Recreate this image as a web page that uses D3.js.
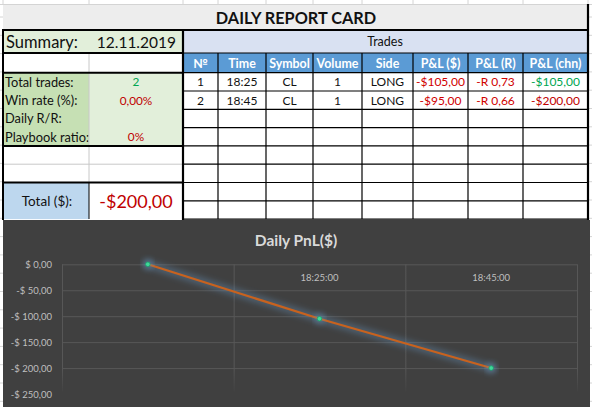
<!DOCTYPE html>
<html>
<head>
<meta charset="utf-8">
<script src="https://cdn.jsdelivr.net/npm/d3@7"></script>
<style>
  html, body { margin: 0; padding: 0; background: #fff; }
  svg { display: block; }
  text { font-family: Lato, "Noto Sans", sans-serif; }
</style>
</head>
<body>
<svg id="sheet" width="592" height="407"></svg>
<script>
// ---- data ----
var reportTitle = "DAILY REPORT CARD";
var summaryDate = "12.11.2019";
var summaryLabels = ["Total trades:", "Win rate (%):", "Daily R/R:", "Playbook ratio:"];
var summaryValues = ["2", "0,00%", "", "0%"];
var summaryColors = ["#00a651", "#c00000", "#000", "#c00000"];
var totalValue = "-$200,00";

var tradeColumns = ["№", "Time", "Symbol", "Volume", "Side", "P&L ($)", "P&L (R)", "P&L (chn)"];
var tradeNo = ["1", "2"];
var tradeTime = ["18:25", "18:45"];
var tradeSymbol = ["CL", "CL"];
var tradeVolume = ["1", "1"];
var tradeSide = ["LONG", "LONG"];
var tradePnl = ["-$105,00", "-$95,00"];
var tradeR = ["-R 0,73", "-R 0,66"];
var tradeChain = ["-$105,00", "-$200,00"];
var chainColors = ["#00a651", "#c00000"];

// chart
var chartTitle = "Daily PnL($)";
var pnlTimes = ["", "18:25:00", "18:45:00"];
var pnlValues = [0, -105, -200];
var pnlTicks = [0, -50, -100, -150, -200, -250];

// ---- layout ----
var svg = d3.select("#sheet");
var colEdges = [3, 89, 183, 218, 266, 313, 362, 413, 468, 523, 588];
var rowTop = 72.7, rowH = 18.3, nRows = 8;
var fontBody = 12;

// sheet gridlines behind everything
var grid = svg.append("g").attr("stroke", "#d4d4d4").attr("stroke-width", 1);
colEdges.forEach(function(x) {
  grid.append("line").attr("x1", x).attr("x2", x).attr("y1", 0).attr("y2", 5);
});
grid.append("line").attr("x1", 0).attr("x2", 592).attr("y1", 4.5).attr("y2", 4.5);
d3.range(0, 407, 18.3).forEach(function(y) {
  grid.append("line").attr("x1", 588).attr("x2", 592).attr("y1", y + 17).attr("y2", y + 17);
  grid.append("line").attr("x1", 0).attr("x2", 3).attr("y1", y + 17).attr("y2", y + 17);
});

function rect(x0, y0, x1, y1, fill) {
  svg.append("rect").attr("x", x0).attr("y", y0)
    .attr("width", x1 - x0).attr("height", y1 - y0).attr("fill", fill);
}
function line(x0, y0, x1, y1, color, w) {
  svg.append("line").attr("x1", x0).attr("y1", y0).attr("x2", x1).attr("y2", y1)
    .attr("stroke", color).attr("stroke-width", w);
}
function label(x, y, str, opts) {
  opts = opts || {};
  return svg.append("text").attr("x", x).attr("y", y)
    .attr("text-anchor", opts.anchor || "middle")
    .attr("dominant-baseline", "central")
    .attr("font-size", opts.size || fontBody)
    .attr("font-weight", opts.weight || "normal")
    .attr("fill", opts.color || "#111")
    .text(str);
}

// fills
rect(3, 5, 588, 30, "#ededed");
rect(3, 30, 183, 53, "#e2efda");
rect(183, 30, 588, 53, "#d9e1f2");
rect(183, 53, 588, rowTop, "#5b9bd5");
rect(3, rowTop, 89, rowTop + 4 * rowH, "#c6e0b4");
rect(89, rowTop, 183, rowTop + 4 * rowH, "#e2efda");
rect(3, rowTop + 6 * rowH, 89, rowTop + 8 * rowH, "#bdd7ee");

// title + summary row
label(296, 17.5, reportTitle, {size: 16.3, weight: "bold"});
label(6, 42, "Summary:", {anchor: "start", size: 16.5});
label(176, 42, summaryDate, {anchor: "end", size: 15.5});
label(385, 41.5, "Trades", {size: 12.5});

// trades header
var tradeX = colEdges.slice(2);
tradeColumns.forEach(function(c, i) {
  label((tradeX[i] + tradeX[i + 1]) / 2, (53 + rowTop) / 2 + 0.5, c,
    {weight: "bold", color: "#fff", size: 12.4});
});

// trade rows
var tradeCols = [tradeNo, tradeTime, tradeSymbol, tradeVolume, tradeSide, tradePnl, tradeR, tradeChain];
tradeNo.forEach(function(d, r) {
  tradeCols.forEach(function(col, i) {
    var color = "#111";
    if (i === 5 || i === 6) color = "#d00000";
    if (i === 7) color = chainColors[r];
    label((tradeX[i] + tradeX[i + 1]) / 2, rowTop + rowH * (r + 0.5), col[r], {color: color});
  });
});

// summary block
summaryLabels.forEach(function(s, i) {
  var cy = rowTop + rowH * (i + 0.5);
  label(5, cy, s, {anchor: "start", size: 12.8});
  label(136, cy, summaryValues[i], {color: summaryColors[i], size: 11.8});
});
label(47, rowTop + rowH * 7, "Total ($):", {size: 13.5});
label(136, rowTop + rowH * 7, totalValue, {size: 18, color: "#c00000"});

// thin grid of trades table
for (var r = 0; r <= nRows; r++) {
  line(183, rowTop + r * rowH, 588, rowTop + r * rowH, "#000", 1.2);
}
tradeX.forEach(function(x) { line(x, 53, x, 219, "#000", 1.2); });
line(183, 53, 588, 53, "#000", 1.2);

// left block borders
line(89, 53, 89, rowTop + 6 * rowH, "#c8c8c8", 1);
line(89, rowTop + 6 * rowH, 89, 219, "#000", 1);
[53, rowTop, rowTop + 4 * rowH, rowTop + 6 * rowH].forEach(function(y) {
  line(3, y, 183, y, "#000", 2);
});
line(3, rowTop + 5 * rowH, 183, rowTop + 5 * rowH, "#c8c8c8", 1);

// thick outline
line(3, 30, 588, 30, "#000", 2);
line(3, 29, 3, 220, "#000", 2);
line(183, 29, 183, 220, "#000", 2.2);
line(588, 4, 588, 220, "#000", 2.2);

// ---- chart ----
var chartX = 3, chartY = 220, chartW = 587, chartH = 190;
var chart = svg.append("g");
chart.append("rect").attr("x", chartX).attr("y", chartY)
  .attr("width", chartW).attr("height", chartH).attr("fill", "#404040");

chart.append("text").attr("x", 296).attr("y", 240)
  .attr("text-anchor", "middle").attr("dominant-baseline", "central")
  .attr("font-size", 15.5).attr("font-weight", "bold").attr("fill", "#d9d9d9")
  .text(chartTitle);

var x = d3.scaleBand().domain(d3.range(pnlTimes.length)).range([62, 577]);
var y = d3.scaleLinear().domain([0, -250]).range([264.3, 394]);

var defs = svg.append("defs");
var fade = defs.append("linearGradient").attr("id", "fade")
  .attr("gradientUnits", "userSpaceOnUse")
  .attr("x1", 0).attr("x2", 0).attr("y1", y(-200)).attr("y2", y(-250));
fade.append("stop").attr("offset", 0).attr("stop-color", "#575757");
fade.append("stop").attr("offset", 1).attr("stop-color", "#404040");
var glow = defs.append("filter").attr("id", "glow")
  .attr("x", "-20%").attr("y", "-50%").attr("width", "140%").attr("height", "200%");
glow.append("feGaussianBlur").attr("stdDeviation", 3);

// horizontal gridlines
chart.selectAll(".hgrid").data(pnlTicks.slice(0, -1)).enter().append("line")
  .attr("x1", 62).attr("x2", 577)
  .attr("y1", function(d) { return y(d) + 0.5; })
  .attr("y2", function(d) { return y(d) + 0.5; })
  .attr("stroke", "#575757").attr("stroke-width", 1);

// vertical gridlines at category boundaries
var bounds = d3.range(pnlTimes.length + 1).map(function(i) { return 62 + i * x.bandwidth(); });
chart.selectAll(".vgrid").data(bounds).enter().append("line")
  .attr("x1", function(d) { return d + 0.5; }).attr("x2", function(d) { return d + 0.5; })
  .attr("y1", y(0)).attr("y2", y(-245))
  .attr("stroke", "url(#fade)").attr("stroke-width", 1);

// value axis labels
var fmt = function(d) {
  var s = "$ " + d3.format(".2f")(Math.abs(d)).replace(".", ",");
  return d < 0 ? "-" + s : s;
};
chart.selectAll(".ylab").data(pnlTicks).enter().append("text")
  .attr("x", 52).attr("y", function(d) { return y(d); })
  .attr("text-anchor", "end").attr("dominant-baseline", "central")
  .attr("font-size", 9.5).attr("fill", "#bfbfbf")
  .text(fmt);

// category labels sit just under the zero line
chart.selectAll(".xlab").data(pnlTimes).enter().append("text")
  .attr("x", function(d, i) { return x(i) + x.bandwidth() / 2; })
  .attr("y", 277.5)
  .attr("text-anchor", "middle").attr("dominant-baseline", "central")
  .attr("font-size", 9.5).attr("fill", "#bfbfbf")
  .text(function(d) { return d; });

var pts = pnlValues.map(function(v, i) { return [x(i) + x.bandwidth() / 2, y(v)]; });
var path = d3.line();

chart.append("path").attr("d", path(pts))
  .attr("fill", "none").attr("stroke", "#6a9cc8").attr("stroke-opacity", 0.4)
  .attr("stroke-width", 7).attr("stroke-linecap", "round")
  .attr("filter", "url(#glow)");
chart.append("path").attr("d", path(pts))
  .attr("fill", "none").attr("stroke", "#c8621e").attr("stroke-width", 2.2);

chart.selectAll(".glowpt").data(pts).enter().append("circle")
  .attr("cx", function(d) { return d[0]; }).attr("cy", function(d) { return d[1]; })
  .attr("r", 5).attr("fill", "#6a9cc8").attr("opacity", 0.5).attr("filter", "url(#glow)");
chart.selectAll(".pt").data(pts).enter().append("circle")
  .attr("cx", function(d) { return d[0]; }).attr("cy", function(d) { return d[1]; })
  .attr("r", 2.3).attr("fill", "#40d89a").attr("stroke", "#1a9f6a").attr("stroke-width", 0.8);
</script>
</body>
</html>
